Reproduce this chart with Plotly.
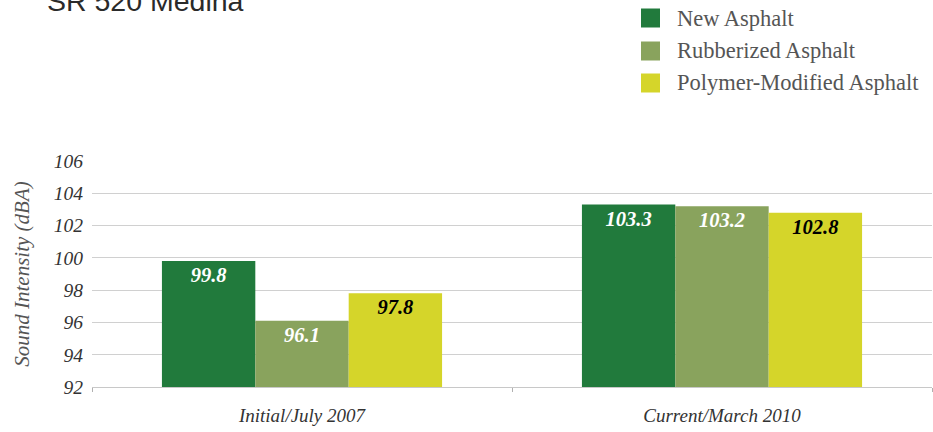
import plotly.graph_objects as go

categories = ["Initial/July 2007", "Current/March 2010"]
series_names = ["New Asphalt", "Rubberized Asphalt", "Polymer-Modified Asphalt"]
new_asphalt = [99.8, 103.3]
rubberized_asphalt = [96.1, 103.2]
polymer_asphalt = [97.8, 102.8]
y_ticks = [92, 94, 96, 98, 100, 102, 104, 106]

series_values = [new_asphalt, rubberized_asphalt, polymer_asphalt]
colors = ["#217a3c", "#89a35d", "#d5d52a"]
label_colors = ["white", "white", "black"]

SERIF = "Liberation Serif, Times New Roman, serif"

fig = go.Figure()
for name, vals, col, lc in zip(series_names, series_values, colors, label_colors):
    fig.add_trace(go.Bar(
        x=categories, y=vals, name=name, marker_color=col,
        marker_line_width=0,
        text=[f"{v:.1f}" for v in vals], textposition="inside",
        insidetextanchor="end", textangle=0,
        textfont=dict(family=SERIF, size=20.5, color=lc, style="italic", weight="bold"),
        showlegend=False,
    ))

# plot area geometry (pixels) used to place legend/title in paper coords
L, R, T, B = 92, 932, 161, 387
W, H = R - L, B - T
def px(x):
    return (x - L) / W
def py(y):
    return (B - y) / H

shapes = []
annotations = []
legend_rows = [18, 51, 83]
for name, col, yc in zip(series_names, colors, legend_rows):
    shapes.append(dict(type="rect", xref="paper", yref="paper",
                       x0=px(641), x1=px(660), y0=py(yc + 9.5), y1=py(yc - 9.5),
                       fillcolor=col, line_width=0))
    annotations.append(dict(text=name, xref="paper", yref="paper",
                            x=px(675), y=py(yc), xanchor="left", yanchor="middle",
                            showarrow=False,
                            font=dict(family=SERIF, size=22.5, color="#555555")))

annotations.append(dict(text="SR 520 Medina", xref="paper", yref="paper",
                        x=px(45), y=py(18.5), xanchor="left", yanchor="bottom",
                        showarrow=False,
                        font=dict(family="Liberation Sans, Arial, sans-serif", size=28.5, color="#2a2a2a")))

fig.update_layout(
    width=933, height=432,
    margin=dict(l=L, r=933 - R, t=T, b=432 - B, pad=0),
    paper_bgcolor="white", plot_bgcolor="white",
    barmode="group", bargap=0.333, bargroupgap=0,
    shapes=shapes, annotations=annotations,
    showlegend=False,
    xaxis=dict(
        showgrid=False, showline=True, linecolor="#c8c8c8", linewidth=1,
        ticks="outside", tickson="boundaries", ticklen=4, tickcolor="#b0b0b0",
        tickfont=dict(family=SERIF, size=19, color="#333333", style="italic"),
        ticklabelstandoff=11,
    ),
    yaxis=dict(
        range=[92, 106], tickvals=y_ticks, ticktext=[str(t) for t in y_ticks],
        showgrid=True, gridcolor="#d0d0d0", gridwidth=1.2,
        zeroline=False, showline=False, ticks="",
        tickfont=dict(family=SERIF, size=19.5, color="#333333", style="italic"),
        ticklabelstandoff=8,
        title=dict(text="Sound Intensity (dBA)", standoff=18,
                   font=dict(family=SERIF, size=21, color="#555555", style="italic")),
    ),
)

fig.write_html("out.html", config={"displayModeBar": False},
               post_script="document.body.style.margin='0';document.body.style.padding='0';")
